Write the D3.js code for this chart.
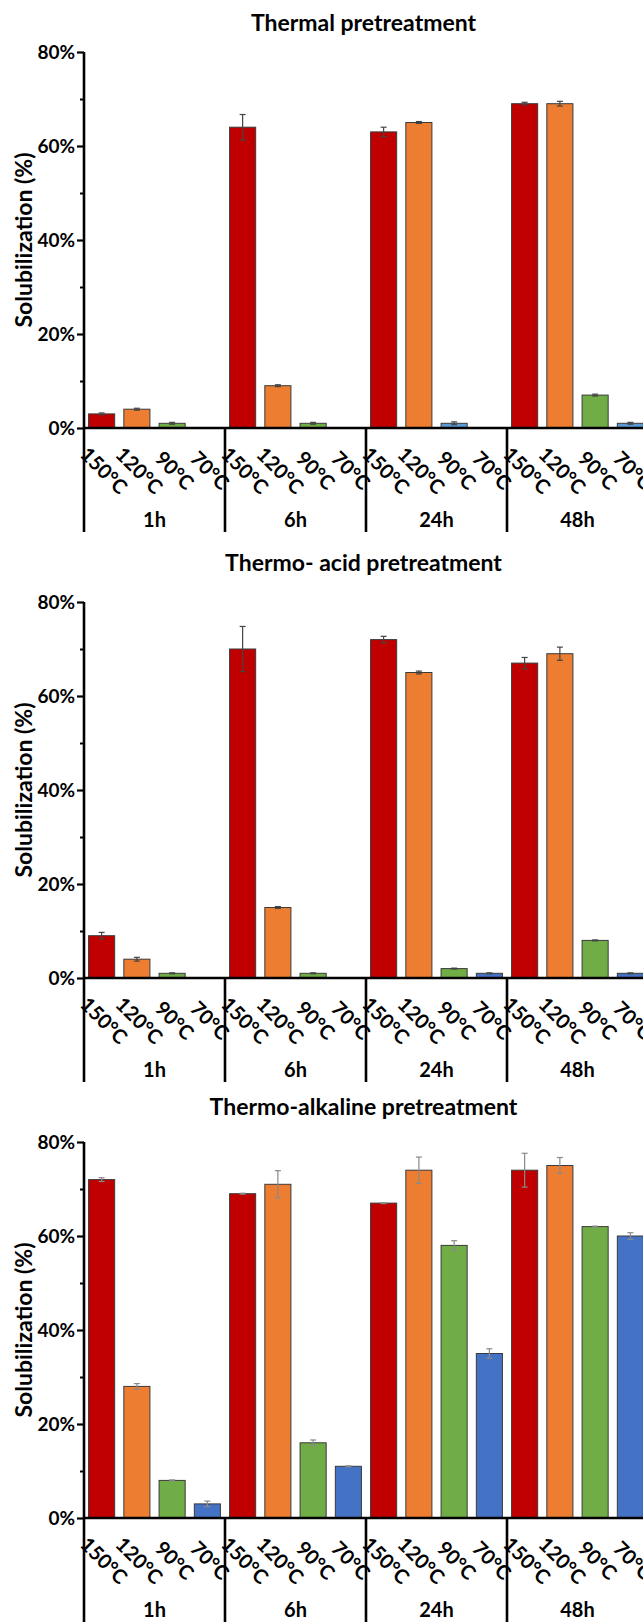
<!DOCTYPE html>
<html>
<head>
<meta charset="utf-8">
<script src="https://cdn.jsdelivr.net/npm/d3@7"></script>
<style>
  body { margin: 0; background: #fff; }
  svg { display: block; font-family: Lato, "Open Sans", sans-serif; }
</style>
</head>
<body>
<div id="chart"></div>
<script>
// data (solubilization, %)
const timePoints = ["1h", "6h", "24h", "48h"];
const temperatures = ["150°C", "120°C", "90°C", "70°C"];
const panelTitles = ["Thermal pretreatment", "Thermo- acid pretreatment", "Thermo-alkaline pretreatment"];
const yTicks = [0, 20, 40, 60, 80];
const yMinorTicks = [10, 30, 50, 70];

// rows = time points, columns = temperatures
const thermalMean = [[3, 4, 1, 0], [64, 9, 1, 0], [63, 65, 1, 0], [69, 69, 7, 1]];
const thermalErr = [[0.2, 0.2, 0.2, 0], [2.7, 0.2, 0.2, 0], [1.0, 0.2, 0.3, 0], [0.3, 0.5, 0.2, 0.2]];
const acidMean = [[9, 4, 1, 0], [70, 15, 1, 0], [72, 65, 2, 1], [67, 69, 8, 1]];
const acidErr = [[0.7, 0.4, 0.1, 0], [4.8, 0.2, 0.1, 0], [0.7, 0.3, 0.1, 0.1], [1.2, 1.4, 0.1, 0.1]];
const alkalineMean = [[72, 28, 8, 3], [69, 71, 16, 11], [67, 74, 58, 35], [74, 75, 62, 60]];
const alkalineErr = [[0.4, 0.6, 0.1, 0.6], [0.1, 2.9, 0.6, 0.1], [0.1, 2.8, 1.0, 1.0], [3.6, 1.7, 0.1, 0.7]];

const panelMeans = [thermalMean, acidMean, alkalineMean];
const panelErrs = [thermalErr, acidErr, alkalineErr];

// layout / styles
const width = 643, height = 1623;
const plotH = 376;
const panelTop = [52, 602, 1142];
const titleY = [31, 571, 1115];
const axisX = 84, groupW = 141;
const blueByPanel = ["#5B9BD5", "#4472C4", "#4472C4"];
const errColorByPanel = ["#444", "#444", "#8a8a8a"];
const tempColors = ["#C00000", "#ED7D31", "#70AD47", null];
// the 24h / 90°C bar of the thermal panel is drawn blue in the figure
const recolored = [{ panel: 0, time: "24h", temp: "90°C" }];

const svg = d3.select("#chart")
  .append("svg")
  .attr("width", width)
  .attr("height", height)
  .style("overflow", "hidden");

const x0 = d3.scaleBand()
  .domain(timePoints)
  .range([axisX, axisX + groupW * timePoints.length]);

const x1 = d3.scaleBand()
  .domain(temperatures)
  .range([0, x0.bandwidth()])
  .paddingInner(0.26)
  .paddingOuter(0.13);

const y = d3.scaleLinear().domain([0, 80]).range([plotH, 0]);

panelTitles.forEach((title, p) => {
  const g = svg.append("g").attr("transform", `translate(0,${panelTop[p]})`);

  svg.append("text")
    .attr("x", (axisX + width) / 2)
    .attr("y", titleY[p])
    .attr("text-anchor", "middle")
    .attr("font-size", 23)
    .attr("font-weight", 700)
    .text(title);

  g.append("text")
    .attr("transform", `translate(32,${plotH / 2}) rotate(-90)`)
    .attr("text-anchor", "middle")
    .attr("font-size", 23)
    .attr("font-weight", 700)
    .text("Solubilization (%)");

  // bars
  const bars = [];
  timePoints.forEach((t, i) => {
    temperatures.forEach((temp, j) => {
      const v = panelMeans[p][i][j];
      if (v <= 0) return;
      const special = recolored.some(r => r.panel === p && r.time === t && r.temp === temp);
      bars.push({
        time: t, temp: temp, value: v, err: panelErrs[p][i][j],
        color: special || j === 3 ? blueByPanel[p] : tempColors[j]
      });
    });
  });

  g.selectAll("rect.bar")
    .data(bars)
    .enter()
    .append("rect")
    .attr("class", "bar")
    .attr("x", d => x0(d.time) + x1(d.temp))
    .attr("y", d => y(d.value))
    .attr("width", x1.bandwidth())
    .attr("height", d => plotH - y(d.value))
    .attr("fill", d => d.color)
    .attr("stroke", "#3a3a3a")
    .attr("stroke-width", 1);

  // error bars
  const eb = g.selectAll("g.err")
    .data(bars.filter(d => d.err > 0))
    .enter()
    .append("g")
    .attr("class", "err")
    .attr("stroke", errColorByPanel[p])
    .attr("stroke-width", 1.2);
  const cx = d => x0(d.time) + x1(d.temp) + x1.bandwidth() / 2;
  eb.append("line")
    .attr("x1", cx).attr("x2", cx)
    .attr("y1", d => y(d.value + d.err))
    .attr("y2", d => y(d.value - d.err));
  [1, -1].forEach(s => {
    eb.append("line")
      .attr("x1", d => cx(d) - 3).attr("x2", d => cx(d) + 3)
      .attr("y1", d => y(d.value + s * d.err))
      .attr("y2", d => y(d.value + s * d.err));
  });

  // y axis
  const yAxis = g.append("g")
    .attr("transform", `translate(${axisX},0)`)
    .call(d3.axisLeft(y).tickValues(yTicks).tickFormat(d => d + "%").tickSize(7).tickPadding(2));
  yAxis.select(".domain").remove();
  yAxis.selectAll("line").attr("stroke", "#000").attr("stroke-width", 2.2);
  yAxis.selectAll("text")
    .attr("font-size", 19)
    .attr("font-weight", 700)
    .attr("fill", "#000")
    .attr("font-family", "Lato, 'Open Sans', sans-serif");

  const yMinor = g.append("g")
    .attr("transform", `translate(${axisX},0)`)
    .call(d3.axisLeft(y).tickValues(yMinorTicks).tickFormat("").tickSize(4));
  yMinor.select(".domain").remove();
  yMinor.selectAll("line").attr("stroke", "#000").attr("stroke-width", 2);

  // axis lines and group dividers
  const labelDepth = 104;
  g.append("line")
    .attr("x1", axisX).attr("x2", axisX)
    .attr("y1", y(80)).attr("y2", plotH + labelDepth)
    .attr("stroke", "#000").attr("stroke-width", 2.6);
  g.append("line")
    .attr("x1", axisX).attr("x2", width)
    .attr("y1", plotH).attr("y2", plotH)
    .attr("stroke", "#000").attr("stroke-width", 2.6);
  g.selectAll("line.divider")
    .data(timePoints.slice(1))
    .enter()
    .append("line")
    .attr("class", "divider")
    .attr("x1", d => x0(d)).attr("x2", d => x0(d))
    .attr("y1", plotH).attr("y2", plotH + labelDepth)
    .attr("stroke", "#000").attr("stroke-width", 2.6);

  // temperature labels (rotated) and time labels
  const cats = [];
  timePoints.forEach(t => temperatures.forEach(temp => cats.push({ time: t, temp: temp })));
  g.selectAll("text.cat")
    .data(cats)
    .enter()
    .append("text")
    .attr("class", "cat")
    .attr("transform", d => `translate(${x0(d.time) + x1(d.temp) + x1.bandwidth() / 2 + 3},${plotH + 42}) rotate(45)`)
    .attr("text-anchor", "middle")
    .attr("dominant-baseline", "central")
    .attr("font-size", 20)
    .attr("font-weight", 700)
    .text(d => d.temp);

  g.selectAll("text.time")
    .data(timePoints)
    .enter()
    .append("text")
    .attr("class", "time")
    .attr("x", d => x0(d) + x0.bandwidth() / 2)
    .attr("y", plotH + 99)
    .attr("text-anchor", "middle")
    .attr("font-size", 20)
    .attr("font-weight", 700)
    .text(d => d);
});
</script>
</body>
</html>
